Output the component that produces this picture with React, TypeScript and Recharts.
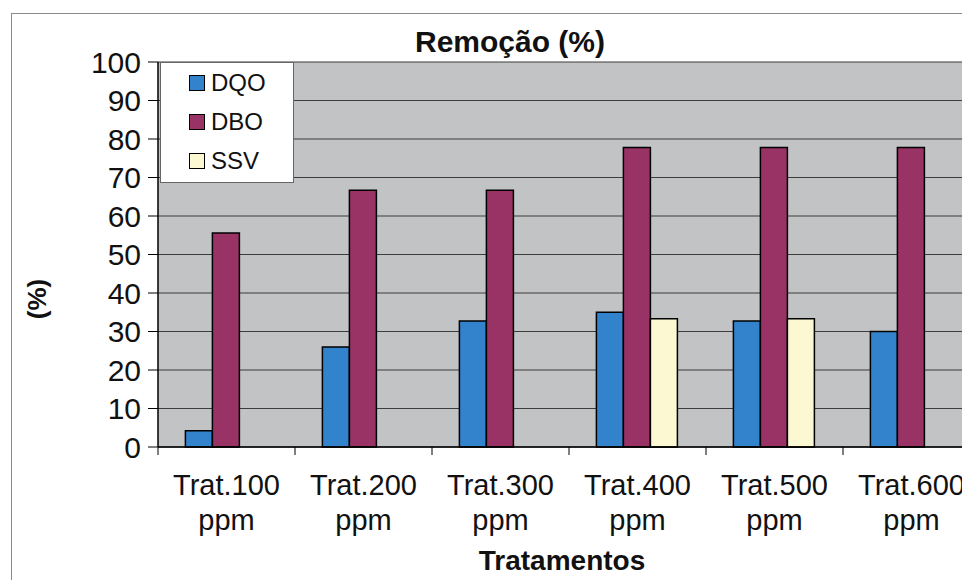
import {
  Bar,
  BarChart,
  CartesianGrid,
  Legend,
  XAxis,
  YAxis,
} from "recharts";

const categorias = [
  "Trat.100 ppm",
  "Trat.200 ppm",
  "Trat.300 ppm",
  "Trat.400 ppm",
  "Trat.500 ppm",
  "Trat.600 ppm",
];
const series = ["DQO", "DBO", "SSV"];
const dqo = [4.2, 26, 32.7, 35, 32.7, 30];
const dbo = [55.6, 66.7, 66.7, 77.8, 77.8, 77.8];
const ssv = [null, null, null, 33.3, 33.3, null];
const yTicks = [0, 10, 20, 30, 40, 50, 60, 70, 80, 90, 100];

const BLUE = "#3282cc";
const WINE = "#993366";
const CREAM = "#fbf8d2";
const PLOT_BG = "#c2c3c4";
const GRID = "#3c3c3c";
const FONT = "'Liberation Sans', Arial, sans-serif";

const data = categorias.map((c, i) => ({
  label: c,
  DQO: dqo[i],
  DBO: dbo[i],
  SSV: ssv[i],
}));

/** Rótulo de duas linhas + marca no limite da categoria (estilo Excel) */
function CategoryTick(props: any) {
  const { x, y, payload, width, visibleTicksCount } = props;
  const band = width / (visibleTicksCount || categorias.length);
  const [l1, l2] = String(payload.value).split(" ");
  return (
    <g>
      <line x1={x - band / 2} y1={y} x2={x - band / 2} y2={y + 8} stroke="#000" />
      <text x={x} y={y + 48} textAnchor="middle" fontSize={29} fill="#111" fontFamily={FONT}>
        {l1}
      </text>
      <text x={x} y={y + 83} textAnchor="middle" fontSize={29} fill="#111" fontFamily={FONT}>
        {l2}
      </text>
    </g>
  );
}

function LegendBox({ payload }: any) {
  const items = series
    .map((s) => (payload || []).find((p: any) => p.value === s))
    .filter(Boolean);
  return (
    <div
      style={{
        boxSizing: "border-box",
        width: 134,
        height: 121,
        background: "#fff",
        border: "1px solid #666",
        fontFamily: FONT,
        fontSize: 24,
        color: "#111",
      }}
    >
      {items.map((p: any) => (
        <div
          key={p.value}
          style={{ height: 39, display: "flex", alignItems: "center", paddingLeft: 28, fontSize: 24 }}
        >
          <span
            style={{
              display: "inline-block",
              width: 14,
              height: 14,
              background: p.color,
              border: "1.5px solid #000",
              marginRight: 6,
            }}
          />
          {p.value}
        </div>
      ))}
    </div>
  );
}

export default function App() {
  return (
    <div
      style={{
        position: "absolute",
        left: 0,
        top: 0,
        width: 962,
        height: 580,
        overflow: "hidden",
        background: "#fff",
        fontFamily: FONT,
      }}
    >
      <div
        style={{
          position: "absolute",
          left: 11,
          top: 13,
          width: 1100,
          height: 1000,
          border: "1px solid #8a8a8a",
        }}
      />
      <div style={{ position: "absolute", left: 0, top: 0 }}>
        <BarChart
          width={1000}
          height={580}
          data={data}
          margin={{ top: 62, right: 20, left: 0, bottom: 0 }}
          barCategoryGap="20%"
          barGap={0}
        >
          <CartesianGrid
            vertical={false}
            stroke={GRID}
            strokeWidth={1.2}
            fill={PLOT_BG}
            fillOpacity={1}
          />
          <XAxis
            dataKey="label"
            height={133}
            interval={0}
            tickLine={false}
            tickSize={0}
            tickMargin={0}
            axisLine={{ stroke: "#000", strokeWidth: 1.5 }}
            tick={<CategoryTick />}
          />
          <YAxis
            width={158}
            domain={[0, 100]}
            ticks={yTicks}
            interval={0}
            tickSize={10}
            tickMargin={7}
            tickLine={{ stroke: "#000" }}
            axisLine={{ stroke: "#000", strokeWidth: 1.5 }}
            tick={{ fontSize: 30, fill: "#111", fontFamily: FONT }}
          />
          <Legend
            layout="vertical"
            align="center"
            verticalAlign="middle"
            content={<LegendBox />}
            wrapperStyle={{ left: 160, top: 62, width: 134, height: 121 }}
          />
          <Bar dataKey="DQO" fill={BLUE} stroke="#000" strokeWidth={1.5} isAnimationActive={false} />
          <Bar dataKey="DBO" fill={WINE} stroke="#000" strokeWidth={1.5} isAnimationActive={false} />
          <Bar dataKey="SSV" fill={CREAM} stroke="#000" strokeWidth={1.5} isAnimationActive={false} />
        </BarChart>
      </div>
      <svg
        width={962}
        height={580}
        style={{ position: "absolute", left: 0, top: 0, pointerEvents: "none" }}
      >
        <text x={510} y={52} textAnchor="middle" fontSize={30} fontWeight="bold" fill="#111" fontFamily={FONT}>
          Remoção (%)
        </text>
        <text
          x={46}
          y={299}
          textAnchor="middle"
          fontSize={26}
          fontWeight="bold"
          fill="#111"
          fontFamily={FONT}
          transform="rotate(-90 46 299)"
        >
          (%)
        </text>
        <text x={562} y={570} textAnchor="middle" fontSize={28} fontWeight="bold" fill="#111" fontFamily={FONT}>
          Tratamentos
        </text>
      </svg>
    </div>
  );
}
